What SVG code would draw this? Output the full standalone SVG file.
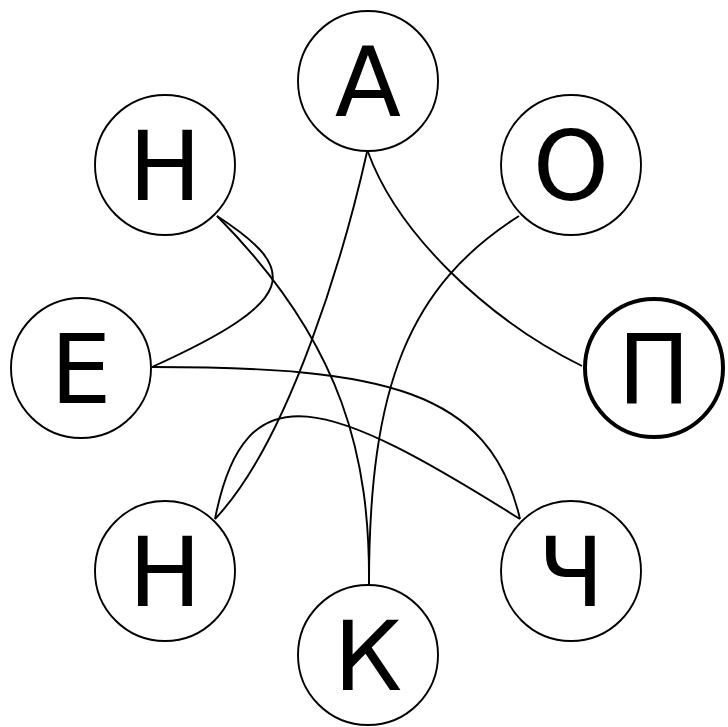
<svg xmlns="http://www.w3.org/2000/svg" width="728" height="727" viewBox="0 0 728 727">
<style>
.n circle{fill:#fff;stroke:#000;stroke-width:1.9}
.n.b circle{stroke-width:4}
.n text{font-family:"DejaVu Sans",sans-serif;font-size:97px;text-anchor:middle;fill:#000}
.e path{fill:none;stroke:#000;stroke-width:1.9}
</style>
<rect width="728" height="727" fill="#fff"/>
<g id="edges" class="e">
<path d="M367,152 C345,250 290,440 215,519"/>
<path d="M368,152 C397,232 485,318 582,366"/>
<path d="M519,216 C409,286 369,385 369,585"/>
<path d="M217,216 C345,345 370,460 369,585"/>
<path d="M217,216 C300,270 300,300 152,367"/>
<path d="M152,367 C382,367 490,389 520,519"/>
<path d="M215,519 C245,365 330,400 520,519"/>
</g>
<g id="nA" class="n"><circle cx="368" cy="81" r="70"/><text x="368" y="116">А</text></g>
<g id="nO" class="n"><circle cx="571" cy="165" r="70"/><text x="571" y="200">О</text></g>
<g id="nP" class="n b"><circle cx="654" cy="368" r="69"/><text x="654" y="403">П</text></g>
<g id="nCh" class="n"><circle cx="571" cy="571" r="70"/><text x="571" y="606">Ч</text></g>
<g id="nK" class="n"><circle cx="368" cy="655" r="70"/><text x="368" y="690">К</text></g>
<g id="nN2" class="n"><circle cx="165" cy="571" r="70"/><text x="165" y="606">Н</text></g>
<g id="nE" class="n"><circle cx="81" cy="368" r="70"/><text x="81" y="403">Е</text></g>
<g id="nN1" class="n"><circle cx="165" cy="165" r="70"/><text x="165" y="200">Н</text></g>
</svg>
